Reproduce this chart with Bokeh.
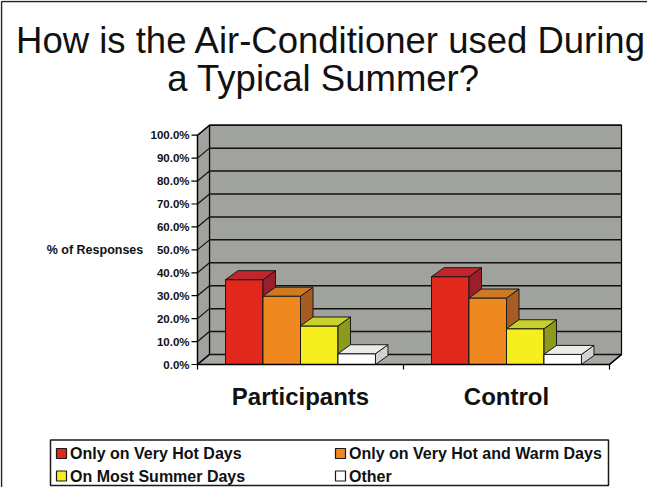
from bokeh.plotting import figure
from bokeh.models import Range1d, ColumnDataSource
from bokeh.embed import file_html
from bokeh.resources import INLINE
from bokeh.core.properties import value

# ---------------- data ----------------
title_lines = ["How is the Air-Conditioner used During", "a Typical Summer?"]
categories = ["Participants", "Control"]
series_names = ["Only on Very Hot Days", "Only on Very Hot and Warm Days",
                "On Most Summer Days", "Other"]
participants = [37.0, 29.8, 16.8, 4.7]
control = [38.3, 29.0, 15.6, 4.4]
y_ticks = [0, 10, 20, 30, 40, 50, 60, 70, 80, 90, 100]
y_tick_labels = ["0.0%", "10.0%", "20.0%", "30.0%", "40.0%", "50.0%",
                 "60.0%", "70.0%", "80.0%", "90.0%", "100.0%"]
y_axis_label = "% of Responses"

front_colors = ["#e2271c", "#ef881f", "#f5ef1f", "#ffffff"]
side_colors = ["#9b1f2b", "#a65c23", "#8c991d", "#d2d2d2"]
top_colors = ["#c0262b", "#cf7a23", "#c8d12b", "#ebebeb"]

# ---------------- layout (page pixels -> data) ----------------
W, H = 647, 487
OFF = 8
X0_PX, PX_PER_CAT = 205.0, 206.0
Y0_PX, PX_PER_PCT = 372.0, 2.293


def X(px):
    return (px - X0_PX) / PX_PER_CAT


def Y(py):
    return (Y0_PX - py) / PX_PER_PCT


def DX(px):
    return px / PX_PER_CAT


def DY(px):
    return px / PX_PER_PCT


p = figure(width=W, height=H, output_backend="svg", toolbar_location=None,
           x_range=Range1d(X(OFF), X(OFF + W)), y_range=Range1d(Y(OFF + H), Y(OFF)),
           min_border=0, min_border_left=0, min_border_right=0,
           min_border_top=0, min_border_bottom=0)
p.xaxis.visible = False
p.yaxis.visible = False
p.grid.visible = False
p.outline_line_color = None
p.background_fill_color = "white"
p.border_fill_color = "white"

FONT = value("Liberation Sans")

# slide border: left and top edges (the others lie outside the view)
p.segment(x0=[X(9), X(9)], y0=[Y(9), Y(9)], x1=[X(9), X(OFF + W)], y1=[Y(OFF + H), Y(9)],
          line_color="#222222", line_width=1.5)

# title
p.text(x=[X(339), X(331)], y=[Y(48), Y(86)], text=title_lines,
       text_font=FONT, text_font_size=value("36.5px"), text_align="center",
       text_baseline="alphabetic", text_color="#111111")

# ---------------- 3D walls ----------------
ncat = len(categories)
ymax = y_ticks[-1]
wdx, wdy = DX(12), DY(10)
wall = "#a0a29d"

p.quad(left=[wdx], right=[ncat + wdx], bottom=[wdy], top=[ymax + wdy],
       fill_color=wall, line_color="black", line_width=1.2)
p.patches(xs=[[0, 0, wdx, wdx], [0, ncat, ncat + wdx, wdx]],
          ys=[[0, ymax, ymax + wdy, wdy], [0, 0, wdy, wdy]],
          fill_color=[wall, "#a7a9a4"], line_color="black", line_width=1.2)

p.segment(x0=[wdx] * len(y_ticks), y0=[t + wdy for t in y_ticks],
          x1=[ncat + wdx] * len(y_ticks), y1=[t + wdy for t in y_ticks],
          line_color="#111111", line_width=1.5)
p.segment(x0=[0] * len(y_ticks), y0=y_ticks,
          x1=[wdx] * len(y_ticks), y1=[t + wdy for t in y_ticks],
          line_color="#111111", line_width=1.2)

# ---------------- bars ----------------
nser = len(series_names)
bw = 0.182
off = (1 - nser * bw) / 2
bdx, bdy = DX(12.5), DY(9)
xs, ys, fills = [], [], []
for k, vals in enumerate([participants, control]):
    for j, v in enumerate(vals):
        l = k + off + j * bw
        r = l + bw
        xs += [[l, r, r, l], [r, r, r + bdx, r + bdx], [l, r, r + bdx, l + bdx]]
        ys += [[0, 0, v, v], [0, v, v + bdy, bdy], [v, v, v + bdy, v + bdy]]
        fills += [front_colors[j], side_colors[j], top_colors[j]]
p.patches(xs="xs", ys="ys", fill_color="fill",
          source=ColumnDataSource(dict(xs=xs, ys=ys, fill=fills)),
          line_color="#1a1a1a", line_width=1)

# ---------------- axes ----------------
p.segment(x0=[0, 0, ncat], y0=[0, 0, 0], x1=[0, ncat, ncat + wdx], y1=[ymax, 0, wdy],
          line_color="black", line_width=1.3)
p.segment(x0=[DX(-6)] * len(y_ticks), y0=y_ticks, x1=[0] * len(y_ticks), y1=y_ticks,
          line_color="black", line_width=1.2)
p.segment(x0=list(range(ncat + 1)), y0=[0] * (ncat + 1),
          x1=list(range(ncat + 1)), y1=[-DY(5)] * (ncat + 1),
          line_color="black", line_width=1.2)
p.text(x=[DX(-8)] * len(y_ticks), y=y_ticks, text=y_tick_labels,
       text_font=FONT, text_font_size=value("11.5px"), text_font_style="bold",
       text_align="right", text_baseline="middle", text_color="#111111")
p.text(x=[X(102.5)], y=[50], text=[y_axis_label],
       text_font=FONT, text_font_size=value("12.5px"), text_font_style="bold",
       text_align="center", text_baseline="middle", text_color="#111111")
p.text(x=[k + 0.5 for k in range(ncat)], y=[Y(403.5)] * ncat, text=categories,
       text_font=FONT, text_font_size=value("24px"), text_font_style="bold",
       text_align="center", text_baseline="alphabetic", text_color="#111111")

# ---------------- legend ----------------
p.quad(left=[X(58)], right=[X(616)], top=[Y(447.5)], bottom=[Y(493)],
       fill_color="white", line_color="#1a1a1a", line_width=1.5)
col_px = [64, 343]
row_px = [461, 483.5]
lx = [X(col_px[i % 2] + 5) for i in range(nser)]
ly = [Y(row_px[i // 2]) for i in range(nser)]
p.rect(x=lx, y=ly, width=10, height=10, width_units="screen", height_units="screen",
       fill_color=front_colors, line_color="#1a1a1a", line_width=1.2)
p.text(x=[X(col_px[i % 2] + 13.5) for i in range(nser)], y=ly, text=series_names,
       text_font=FONT, text_font_size=value("16px"), text_font_style="bold",
       text_align="left", text_baseline="middle", text_color="#111111")

open("out.html", "w").write(file_html(p, INLINE))
